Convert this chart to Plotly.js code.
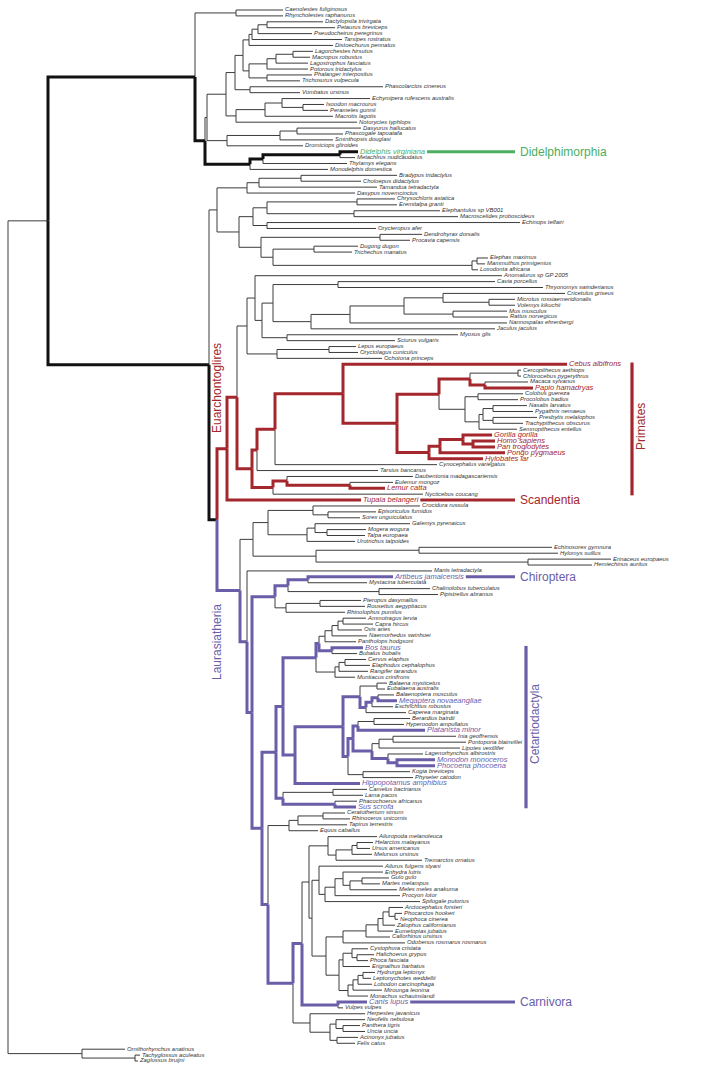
<!DOCTYPE html>
<html><head><meta charset="utf-8">
<script src="https://cdn.plot.ly/plotly-3.0.1.min.js"></script>
<style>html,body{margin:0;padding:0;background:#fff}</style>
</head><body><div id="chart" style="width:708px;height:1074px"></div>
<script>
// ---------------- DATA (Newick pieces; value after ':' = node depth) ------------
const pauci = "(Caenolestes_fuliginosus:283,Rhyncholestes_raphanurus:283):236";
const petauroidea = "((((Dactylopsila_trivirgata:323,Petaurus_breviceps:335):267,Pseudocheirus_peregrinus:312):258,Tarsipes_rostratus:342):252,Distoechurus_pennatus:333):249";
const macroPhal = "((((Lagorchestes_hirsutus:313,Macropus_robustus:310):293,Lagostrophus_fasciatus:308):276,Potorous_tridactylus:308):267,(Phalanger_interpositus:312,Trichosurus_vulpecula:300):267):249";
const vombatiformes = "(Phascolarctos_cinereus:383,Vombatus_ursinus:300):250";
const peramNoto = "(((Echymipera_rufescens_australis:370,(Isoodon_macrourus:324,Perameles_gunnii:328):303):282,Macrotis_lagotis:333):265,Notoryctes_typhlops:357):236";
const dasyuro = "(((Dasyurus_hallucatus:361,Phascogale_tapoatafa:343):297,Sminthopsis_douglasi:333):280,Dromiciops_gliroides:303):227";
const didelphimorphia = "(((Didelphis_virginiana:358,Metachirus_nudicaudatus:355):340,Thylamys_elegans:347):263,Monodelphis_domestica:328):250";

const xenarthra = "(((Bradypus_tridactylus:397,Choloepus_didactylus:361):301,Tamandua_tetradactyla:377):259,Dasypus_novemcinctus:355):247";
const afroinsect = "(((Chrysochloris_asiatica:395,Eremitalpa_granti:397):357,(Elephantulus_sp_VB001:440,Macroscelides_proboscideus:458):354):267,(Echinops_telfairi:520,Orycteropus_afer:376):267):253";
const paenungulata = "((Dendrohyrax_dorsalis:422,Procavia_capensis:410):380,((Dugong_dugon:358,Trichechus_manatus:352):314,((Elephas_maximus:488,Mammuthus_primigenius:485):477,Loxodonta_africana:478):472):273):261";

const muroidJac = "((((Cricetulus_griseus:565,(Microtus_rossiaemeridionalis:515,Volemys_kikuchii:515):489):443,(Mus_musculus:507,Rattus_norvegicus:508):453):404,Nannospalax_ehrenbergi:507):350,Jaculus_jaculus:495):311";
const caviomorpha = "(Cavia_porcellus:495,Thryonomys_swinderianus:543):338";
const sciuroidea = "(Myoxus_glis:458,Sciurus_vulgaris:395):287";
const lagomorpha = "((Lepus_europaeus:356,Oryctolagus_cuniculus:358):329,Ochotona_princeps:382):277";

const cercopithecinae = "((Cercopithecus_aethiops:521,Chlorocebus_pygerythrus:521):518,(Macaca_sylvanus:528,Papio_hamadryas:533):485):470";
const colobinae = "((Colobus_guereza:523,Procolobus_badius:518):478,(((Nasalis_larvatus:527,Pygathrix_nemaeus:533):493,(Presbytis_melalophos:537,Trachypithecus_obscurus:523):493):483,Semnopithecus_entellus:517):479):465";
const hominoidea = "(((Gorilla_gorilla:492,(Homo_sapiens:495,Pan_troglodytes:495):473):463,Pongo_pygmaeus:505):440,Hylobates_lar:483):429";
const strepsirrhini = "((Daubentonia_madagascariensis:413,(Eulemur_mongoz:393,Lemur_catta:385):350):287,Nycticebus_coucang:423):273";

const eulipotyphla = "(((Crocidura_russula:420,(Episoriculus_fumidus:376,Sorex_unguiculatus:360):328):313,((Galemys_pyrenaicus:410,(Mogera_wogura:366,Talpa_europaea:365):327):315,Urotrichus_talpoides:355):307):268,((Echinosorex_gymnura:552,Hylomys_suillus:558):419,(Erinaceus_europaeus:611,Hemiechinus_auritus:592):528):316):253";
const chiroptera = "(((Artibeus_jamaicensis:393,Mystacina_tuberculata:367):308,(Chalinolobus_tuberculatus:430,Pipistrellus_abramus:438):379):288,((Pteropus_dasymallus:361,Rousettus_aegyptiacus:365):320,Rhinolophus_pumilus:345):286):275";
const bovidae = "(((((Ammotragus_lervia:366,Capra_hircus:373):343,Ovis_aries:362):338,Naemorhedus_swinhoei:367):332,Pantholops_hodgsoni:356):325,(Bos_taurus:363,Bubalus_bubalis:357):332):319";
const cervidae = "(((Cervus_elaphus:366,Elaphodus_cephalophus:370):345,Rangifer_tarandus:368):339,Muntiacus_crinifrons:355):335";
const mysticeti = "((Balaena_mysticetus:387,Eubalaena_australis:385):377,(((Balaenoptera_musculus:394,Megaptera_novaeangliae:397):378,Eschrichtius_robustus:393):372,Caperea_marginata:406):366):360";
const odontoceti = "((((Berardius_bairdii:410,Hyperoodon_ampullatus:404):374,Platanista_minor:425):358,(((Inia_geoffrensis:456,Pontoporia_blainvillei:466):393,Lipotes_vexillifer:460):379,(Lagenorhynchus_albirostris:423,(Monodon_monoceros:435,Phocoena_phocoena:435):397):388):372):353,(Kogia_breviceps:410,Physeter_catodon:413):363):348";
const tylopodaSuina = "((Camelus_bactrianus:367,Lama_pacos:363):333,(Phacochoerus_africanus:357,Sus_scrofa:356):335):283";
const perissodactyla = "(((Ceratotherium_simum:345,Rhinoceros_unicornis:350):323,Tapirus_terrestris:347):298,Equus_caballus:318):289";
const ursidae = "(Ailuropoda_melanoleuca:377,(((Helarctos_malayanus:373,Ursus_americanus:370):357,Melursus_ursinus:372):352,Tremarctos_ornatus:422):336):328";
const musteloidea = "(Ailurus_fulgens_styani:383,(((Enhydra_lutris:383,((Gulo_gulo:389,Martes_melampus:380):362,Meles_meles_anakuma:397):350):343,Procyon_lotor:400):335,Spilogale_putorius:420):325):319";
const otarioidea = "(((((Arctocephalus_forsteri:403,(Phocarctos_hookeri:402,Neophoca_cinerea:398):395):389,Zalophus_californianus:395):383,Eumetopias_jubatus:393):378,Callorhinus_ursinus:390):366,Odobenus_rosmarus_rosmarus:405):343";
const phocidae = "(((Cystophora_cristata:368,(Halichoerus_grypus:374,Phoca_fasciata:368):357):352,Erignathus_barbatus:370):343,((((Hydrurga_leptonyx:375,Leptonychotes_weddellii:371):363,Lobodon_carcinophaga:372):358,Mirounga_leonina:382):353,Monachus_schauinslandi:368):348):339";
const canidae = "(Canis_lupus:367,Vulpes_vulpes:343):338";
const feliformia = "(Herpestes_javanicus:365,((Neofelis_nebulosa:365,(Panthera_tigris:360,Uncia_uncia:365):343):336,(Acinonyx_jubatus:358,Felis_catus:355):337):330):310";
const monotremata = "(Ornithorhynchus_anatinus:125,(Tachyglossus_aculeatus:140,Zaglossus_bruijni:138):135):82";

// assembled topology
const diprotodontia = `((${petauroidea},${macroPhal}):243,${vombatiformes}):235`;
const marsupialia = `(${pauci},(((${diprotodontia},${peramNoto}):226,${dasyuro}):207,${didelphimorphia}):205):195`;
const afrotheria = `(${afroinsect},${paenungulata}):239`;
const atlantogenata = `(${xenarthra},${afrotheria}):217`;
const rodentia = `(Anomalurus_sp_GP_2005:502,(((${caviomorpha},${muroidJac}):273),${sciuroidea}):262):255`;
const glires = `(${rodentia},${lagomorpha}):247`;
const catarrhini = `((${cercopithecinae},${colobinae}):439,${hominoidea}):397`;
const primatomorpha = `((((Cebus_albifrons:567,${catarrhini}):343,Cynocephalus_variegatus:437):275,Tarsius_bancanus:378):257,${strepsirrhini}):252`;
const euarchontoglires = `((${glires},${primatomorpha}):237,Tupaia_belangeri:361):227`;
const cetacea = `(${mysticeti},${odontoceti}):343`;
const cetartiodactyla = `((((${bovidae},${cervidae}):316,(${cetacea},Hippopotamus_amphibius:360):295):283),${tylopodaSuina}):276`;
const carnivora = `(((${ursidae},(${musteloidea},(${otarioidea},${phocidae}):326):312):309,${canidae}):302,${feliformia}):293`;
const laurasiatheria = `(${eulipotyphla},(Manis_tetradactyla:432,(${chiroptera},(${cetartiodactyla},(${perissodactyla},${carnivora}):268):262):252):247):240`;
const placentalia = `(${atlantogenata},(${euarchontoglires},${laurasiatheria}):217):209`;
const treeNewick = `((${marsupialia},${placentalia}):48,${monotremata}):8`;

const redNames = ['Cebus albifrons','Papio hamadryas','Gorilla gorilla','Homo sapiens','Pan troglodytes','Pongo pygmaeus','Hylobates lar','Lemur catta','Tupaia belangeri'];
const purpleNames = ['Artibeus jamaicensis','Bos taurus','Megaptera novaeangliae','Platanista minor','Monodon monoceros','Phocoena phocoena','Hippopotamus amphibius','Sus scrofa','Canis lupus'];
const greenNames = ['Didelphis virginiana'];

const cladeTitles = ['Didelphimorphia','Scandentia','Chiroptera','Carnivora'];
const cladeTitleLeaves = ['Didelphis virginiana','Tupaia belangeri','Artibeus jamaicensis','Canis lupus'];
const bracketTitles = ['Primates','Cetartiodactyla'];
const bracketFrom = ['Cebus albifrons','Bos taurus'];
const bracketTo = ['Nycticebus coucang','Sus scrofa'];
const sideTitles = ['Euarchontoglires','Laurasiatheria'];

// ---------------- STYLE ----------------
const COL = {red:'#a3272c', purple:'#6a5ea9', green:'#4cae61', black:'#111111', thin:'#3c3c3c', text:'#333333'};
const FONT = '"Liberation Sans", Arial, sans-serif';
const LEAF_FS = 5.9, HL_FS = 7.5, TITLE_FS = 12;
const LABEL_GAP = 2, TITLE_X = 518, LINE_END = 515;

// ---------------- PARSE ----------------
function parseNewick(str){
  const s = str.replace(/\s+/g,''); let i = 0;
  function node(){
    const n = {children:[]};
    if (s[i] === '('){
      i++;
      while(true){ n.children.push(node()); if (s[i] === ','){ i++; continue; } break; }
      i++;
    }
    let name=''; while(i<s.length && !':,()'.includes(s[i])) name += s[i++];
    n.name = name.replace(/_/g,' ');
    if (s[i] === ':'){ i++; let num=''; while(i<s.length && /[0-9.\-]/.test(s[i])) num += s[i++]; n.x = parseFloat(num); }
    return n;
  }
  return node();
}
function flatten(n){
  n.children = n.children.map(c => { while(c.children.length===1 && c.x===undefined) c = c.children[0]; return c; });
  n.children.forEach(flatten);
}
const root = parseNewick(treeNewick);
flatten(root);

const leaves = [];
function place(n){
  if (!n.children.length){ n.y = leaves.length; leaves.push(n); }
  else { n.children.forEach(place); n.y = (n.children[0].y + n.children[n.children.length-1].y)/2; }
}
place(root);
const leafByName = {}; leaves.forEach(l => leafByName[l.name] = l);

const pathColorOf = {}; redNames.forEach(n=>pathColorOf[n]='red'); purpleNames.forEach(n=>pathColorOf[n]='purple'); greenNames.forEach(n=>pathColorOf[n]='black');
const labelColorOf = {}; redNames.forEach(n=>labelColorOf[n]='red'); purpleNames.forEach(n=>labelColorOf[n]='purple'); greenNames.forEach(n=>labelColorOf[n]='green');

function collect(n){
  n.hl = new Set();
  if (!n.children.length){ if (pathColorOf[n.name]) n.hl.add(pathColorOf[n.name]); }
  else n.children.forEach(c => { collect(c); c.hl.forEach(v => n.hl.add(v)); });
}
collect(root);

const seg = {thin:{x:[],y:[]}, black:{x:[],y:[]}, red:{x:[],y:[]}, purple:{x:[],y:[]}, green:{x:[],y:[]}};
function edges(p, depth){
  p.children.forEach(c => {
    let key = 'thin';
    if (depth > 0 && c.hl.size){ key = c.hl.size === 1 ? [...c.hl][0] : 'black'; }
    const S = seg[key];
    S.x.push(p.x, p.x, c.x, null); S.y.push(p.y, c.y, c.y, null);
    edges(c, depth+1);
  });
}
edges(root, 0);

const ctx = document.createElement('canvas').getContext('2d');
function textW(t, fs){ ctx.font = `italic ${fs}px "Liberation Sans"`; return ctx.measureText(t).width; }
cladeTitleLeaves.forEach((nm) => {
  const l = leafByName[nm];
  const x0 = l.x + LABEL_GAP + textW(nm, HL_FS) + 2;
  const S = seg[labelColorOf[nm]];
  S.x.push(x0, LINE_END, null); S.y.push(l.y, l.y, null);
});

const nL = leaves.length, SP = 1051/(nL-1);
const traces = [];
const lineTrace = (S, color, w) => ({type:'scatter', mode:'lines', x:S.x, y:S.y, line:{color, width:w}, hoverinfo:'skip', connectgaps:false});
traces.push(lineTrace(seg.thin, COL.thin, 1));
traces.push(lineTrace(seg.black, COL.black, 3));
traces.push(lineTrace(seg.red, COL.red, 3));
traces.push(lineTrace(seg.purple, COL.purple, 3));
traces.push(lineTrace(seg.green, COL.green, 3));

const brColors = [COL.red, COL.purple], brX = [632, 526];
bracketTitles.forEach((t,k) => {
  const a = leafByName[bracketFrom[k]].y - 0.3, b = leafByName[bracketTo[k]].y + 0.2;
  traces.push({type:'scatter', mode:'lines', x:[brX[k], brX[k]], y:[a,b], line:{color:brColors[k], width:3.2}, hoverinfo:'skip'});
});

const norm = leaves.filter(l => !labelColorOf[l.name]);
traces.push({type:'scatter', mode:'text', x:norm.map(l=>l.x+LABEL_GAP), y:norm.map(l=>l.y), text:norm.map(l=>l.name),
  textposition:'middle right', textfont:{family:FONT, size:LEAF_FS, color:COL.text, style:'italic'}, hoverinfo:'skip', cliponaxis:false});
['red','purple','green'].forEach(cn => {
  const L = leaves.filter(l => labelColorOf[l.name] === cn);
  traces.push({type:'scatter', mode:'text', x:L.map(l=>l.x+LABEL_GAP), y:L.map(l=>l.y), text:L.map(l=>l.name),
    textposition:'middle right', textfont:{family:FONT, size:HL_FS, color:COL[cn], style:'italic'}, hoverinfo:'skip', cliponaxis:false});
});

const pxToIdx = p => (p - 10)/SP;
const annotations = [];
cladeTitles.forEach((t,k) => {
  const l = leafByName[cladeTitleLeaves[k]];
  annotations.push({x:TITLE_X, y:l.y, xref:'x', yref:'y', text:t, showarrow:false, xanchor:'left', yanchor:'middle',
    font:{family:FONT, size:TITLE_FS, color:COL[labelColorOf[cladeTitleLeaves[k]]]}});
});
annotations.push({x:641, y:pxToIdx(427), xref:'x', yref:'y', text:bracketTitles[0], textangle:-90, showarrow:false, font:{family:FONT, size:TITLE_FS, color:COL.red}});
annotations.push({x:535, y:pxToIdx(724), xref:'x', yref:'y', text:bracketTitles[1], textangle:-90, showarrow:false, font:{family:FONT, size:TITLE_FS, color:COL.purple}});
annotations.push({x:217, y:pxToIdx(388), xref:'x', yref:'y', text:sideTitles[0], textangle:-90, showarrow:false, font:{family:FONT, size:TITLE_FS, color:COL.red}});
annotations.push({x:217, y:pxToIdx(642), xref:'x', yref:'y', text:sideTitles[1], textangle:-90, showarrow:false, font:{family:FONT, size:TITLE_FS, color:COL.purple}});

const layout = {
  width:708, height:1074, margin:{l:0,r:0,t:0,b:0}, showlegend:false,
  paper_bgcolor:'#ffffff', plot_bgcolor:'#ffffff',
  xaxis:{range:[0,708], visible:false, fixedrange:true},
  yaxis:{range:[(nL-1) + 13/SP, -10/SP], visible:false, fixedrange:true},
  annotations
};
Plotly.newPlot('chart', traces, layout, {staticPlot:true, displayModeBar:false});
</script></body></html>
